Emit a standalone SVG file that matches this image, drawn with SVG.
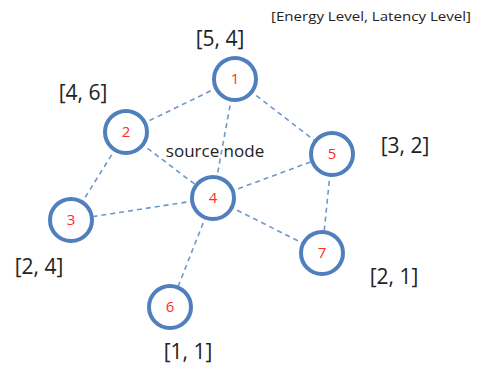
<svg xmlns="http://www.w3.org/2000/svg" width="480" height="365" viewBox="0 0 480 365">
<style>
.edge{stroke:#6f97cc;stroke-width:1.6;stroke-dasharray:5,4;fill:none}
.node circle{fill:#fff;stroke:#4f7fbd;stroke-width:4}
.num{font-family:"Open Sans","Noto Sans",sans-serif;font-size:15px;fill:#ff2a2a;text-anchor:middle}
.lbl{font-family:"Open Sans","Noto Sans",sans-serif;font-size:21px;fill:#222;text-anchor:middle}
</style>
<rect width="480" height="365" fill="#fff"/>
<g id="connectors">
<line class="edge" x1="235" y1="79" x2="126" y2="132"/>
<line class="edge" x1="235" y1="79" x2="213" y2="198"/>
<line class="edge" x1="235" y1="79" x2="332" y2="154"/>
<line class="edge" x1="126" y1="132" x2="71" y2="220"/>
<line class="edge" x1="126" y1="132" x2="213" y2="198"/>
<line class="edge" x1="213" y1="198" x2="71" y2="220"/>
<line class="edge" x1="213" y1="198" x2="332" y2="154"/>
<line class="edge" x1="213" y1="198" x2="170" y2="307"/>
<line class="edge" x1="213" y1="198" x2="322" y2="253"/>
<line class="edge" x1="332" y1="154" x2="322" y2="253"/>
</g>
<g id="node1" class="node"><circle cx="235" cy="79" r="21"/><text class="num" x="235" y="84">1</text></g>
<g id="node2" class="node"><circle cx="126" cy="132" r="21"/><text class="num" x="126" y="137">2</text></g>
<g id="node3" class="node"><circle cx="71" cy="220" r="21"/><text class="num" x="71" y="225">3</text></g>
<g id="node4" class="node"><circle cx="213" cy="198" r="21"/><text class="num" x="213" y="203">4</text></g>
<g id="node5" class="node"><circle cx="332" cy="154" r="21"/><text class="num" x="332" y="159">5</text></g>
<g id="node6" class="node"><circle cx="170" cy="307" r="21"/><text class="num" x="170" y="312">6</text></g>
<g id="node7" class="node"><circle cx="322" cy="253" r="21"/><text class="num" x="322" y="258">7</text></g>
<g id="labels">
<text x="371" y="21" font-family="'Open Sans','Noto Sans',sans-serif" font-size="12" fill="#222" text-anchor="middle" textLength="200" lengthAdjust="spacingAndGlyphs">[Energy Level, Latency Level]</text>
<text class="lbl" x="220" y="46">[5, 4]</text>
<text class="lbl" x="83" y="100">[4, 6]</text>
<text class="lbl" x="405" y="153">[3, 2]</text>
<text class="lbl" x="39" y="274">[2, 4]</text>
<text class="lbl" x="394" y="284">[2, 1]</text>
<text class="lbl" x="188" y="359">[1, 1]</text>
<text x="215" y="157" font-family="'Open Sans','Noto Sans',sans-serif" font-size="17" fill="#222" text-anchor="middle">source node</text>
</g>
</svg>
